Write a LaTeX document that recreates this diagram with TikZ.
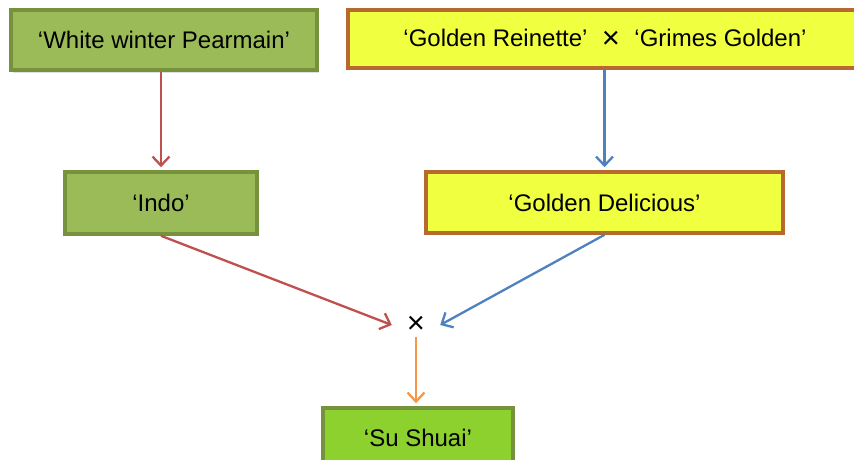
\documentclass[tikz,border=0pt]{standalone}
\usepackage{fontspec}
\setmainfont{Liberation Sans}
\usetikzlibrary{arrows.meta}
\definecolor{gfill}{HTML}{9BBB59}
\definecolor{gdraw}{HTML}{76923C}
\definecolor{yfill}{HTML}{F0FF40}
\definecolor{ydraw}{HTML}{B8692F}
\definecolor{lgfill}{HTML}{8CD12E}
\definecolor{cred}{HTML}{C0504D}
\definecolor{cblue}{HTML}{4F81BD}
\definecolor{corange}{HTML}{F79646}
\newcommand{\bigx}{\raisebox{-2.5pt}{\fontsize{31}{28}\selectfont ×}}
\begin{document}
\begin{tikzpicture}[x=1pt,y=-1pt,
  font=\fontsize{24}{28}\selectfont,
  box/.style={draw, line width=3.6pt, inner sep=0pt, anchor=center, text=black},
  greenbox/.style={box, fill=gfill, draw=gdraw},
  yellowbox/.style={box, fill=yfill, draw=ydraw},
  lightbox/.style={box, fill=lgfill, draw=gdraw},
  conn/.style={line width=2.3pt, -{Straight Barb[length=9pt,width=17pt,line width=2.3pt]}}
]
\useasboundingbox (0,0) rectangle (854,460);
\fill[black!12] (13,12) rectangle (319,73);
\node[greenbox, minimum width=306pt, minimum height=60pt] (b1) at (164,40) {‘White winter Pearmain’};
\node[yellowbox, minimum width=514pt, minimum height=58pt] (b2) at (605,39) {‘Golden Reinette’\hspace{0.6em}\bigx\hspace{0.6em}‘Grimes Golden’};
\fill[black!12] (67,174) rectangle (259,236);
\node[greenbox, minimum width=192pt, minimum height=62pt] (b3) at (161,203) {‘Indo’};
\fill[black!12] (428,174) rectangle (785,235);
\node[yellowbox, minimum width=357pt, minimum height=61pt] (b4) at (604.5,202.5) {‘Golden Delicious’};
\node[inner sep=0pt, minimum width=48pt, minimum height=24pt] (x) at (416,325) {\bigx};
\node[lightbox, minimum width=190pt, minimum height=60pt] (b5) at (418,438) {‘Su Shuai’};
\draw[conn, cred, shorten >=3pt] (b3.north |- b1.south) -- (b3.north);
\draw[conn, cblue, shorten >=3pt] (b4.north |- b2.south) -- (b4.north);
\draw[conn, cred] (b3.south) -- (x.west);
\draw[conn, cblue] (b4.south) -- (x.east);
\draw[conn, corange, shorten >=3pt] (x.south) -- (x.south |- b5.north);
\end{tikzpicture}
\end{document}
